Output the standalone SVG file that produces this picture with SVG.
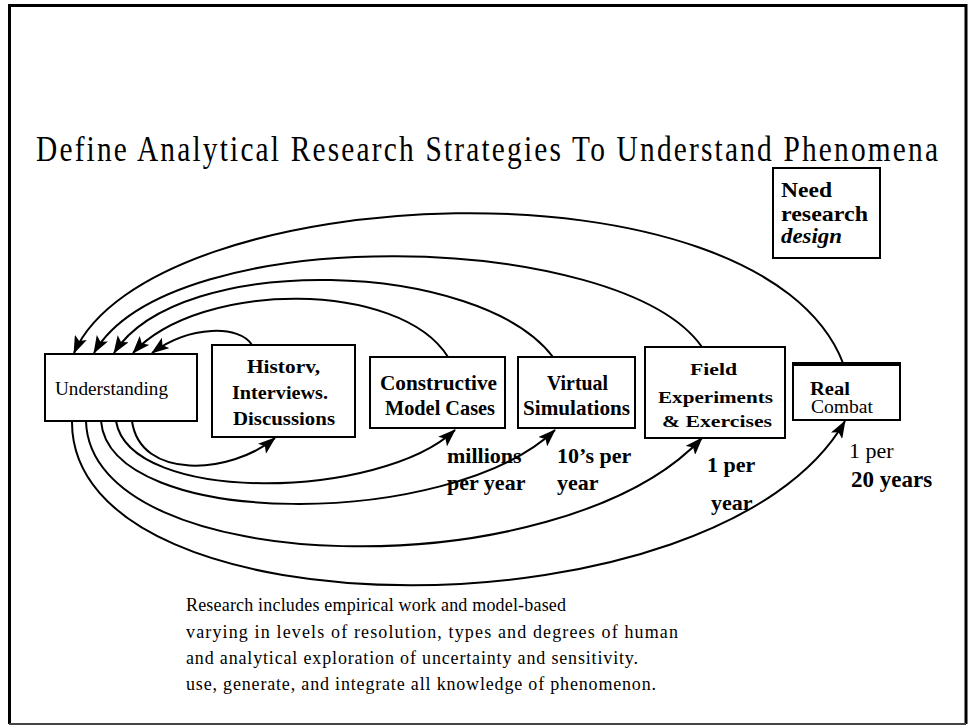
<svg xmlns="http://www.w3.org/2000/svg" width="970" height="727" viewBox="0 0 970 727">
<defs>
<marker id="ah" viewBox="0 0 18 13" markerUnits="userSpaceOnUse" markerWidth="18" markerHeight="13" refX="17" refY="6.5" orient="auto">
<path d="M0,0 L18,6.5 L0,13 L4,6.5 z" fill="#000"/>
</marker>
<style>
.box{fill:#fff;stroke:#000;stroke-width:2}
.arc{fill:none;stroke:#000;stroke-width:2;marker-end:url(#ah)}
.bt{font-weight:bold;fill:#000}
.rt{fill:#000}
.lb{font-weight:bold;font-size:22px;fill:#000}
.nt{font-size:18px;fill:#000}
</style>
</defs>
<rect x="0" y="0" width="970" height="727" fill="#fff"/>
<g id="frame">
<path d="M9.5,724 L9.5,5.5 L966,5.5 L966,724" fill="none" stroke="#000" stroke-width="3"/>
<line x1="9" y1="724" x2="966" y2="724" stroke="#444" stroke-width="2"/>
</g>
<g id="title" transform="scale(0.84,1)">
<text x="42.86" y="161" font-family="Liberation Serif, serif" font-size="35" textLength="1073.8" lengthAdjust="spacing">Define Analytical Research Strategies To Understand Phenomena</text>
</g>

<g id="connectors">
<path class="arc" d="M252,345 C240,325 190,325 152,353"/>
<path class="arc" d="M448,357 C400,280 200,280 133,353"/>
<path class="arc" d="M553,357 C480,260 180,250 114,353"/>
<path class="arc" d="M702,347 C620,230 170,220 94,353"/>
<path class="arc" d="M843,363 C760,150 150,180 74,353"/>
<path class="arc" d="M132,421 C140,480 230,475 275,438"/>
<path class="arc" d="M116,421 C130,505 380,500 455,430"/>
<path class="arc" d="M101,421 C110,530 450,530 555,430"/>
<path class="arc" d="M86,421 C90,580 560,590 702,438"/>
<path class="arc" d="M72,421 C70,640 720,640 845,421"/>
</g>

<g id="need" font-family="Liberation Serif, serif">
<rect class="box" x="773" y="168" width="107" height="90"/>
<text class="bt" x="781" y="197" font-size="21" textLength="51" lengthAdjust="spacingAndGlyphs">Need</text>
<text class="bt" x="781" y="221" font-size="21" textLength="87" lengthAdjust="spacingAndGlyphs">research</text>
<text class="bt" x="781" y="243" font-size="21" font-style="italic" textLength="61" lengthAdjust="spacingAndGlyphs">design</text>
</g>

<g id="understanding" font-family="Liberation Serif, serif">
<rect class="box" x="45" y="354" width="152" height="67"/>
<text class="rt" x="55" y="395" font-size="18" textLength="113" lengthAdjust="spacingAndGlyphs">Understanding</text>
</g>

<g id="history" font-family="Liberation Serif, serif">
<rect class="box" x="212" y="345" width="143" height="92"/>
<text class="bt" x="247" y="373" font-size="18" textLength="73" lengthAdjust="spacingAndGlyphs">Historv,</text>
<text class="bt" x="232" y="399" font-size="18" textLength="96" lengthAdjust="spacingAndGlyphs">Interviews.</text>
<text class="bt" x="233" y="425" font-size="18" textLength="102" lengthAdjust="spacingAndGlyphs">Discussions</text>
</g>

<g id="constructive" font-family="Liberation Serif, serif">
<rect class="box" x="370" y="357" width="135" height="71"/>
<text class="bt" x="380" y="390" font-size="21" textLength="117" lengthAdjust="spacingAndGlyphs">Constructive</text>
<text class="bt" x="385" y="415" font-size="21" textLength="110" lengthAdjust="spacingAndGlyphs">Model Cases</text>
</g>

<g id="virtual" font-family="Liberation Serif, serif">
<rect class="box" x="518" y="357" width="117" height="71"/>
<text class="bt" x="547" y="390" font-size="21" textLength="61" lengthAdjust="spacingAndGlyphs">Virtual</text>
<text class="bt" x="523" y="415" font-size="21" textLength="107" lengthAdjust="spacingAndGlyphs">Simulations</text>
</g>

<g id="field" font-family="Liberation Serif, serif">
<rect class="box" x="645" y="347" width="140" height="91"/>
<text class="bt" x="690" y="375" font-size="17" textLength="47" lengthAdjust="spacingAndGlyphs">Field</text>
<text class="bt" x="658" y="403" font-size="17" textLength="115" lengthAdjust="spacingAndGlyphs">Experiments</text>
<text class="bt" x="662" y="427" font-size="17" textLength="110" lengthAdjust="spacingAndGlyphs">&amp; Exercises</text>
</g>

<g id="real" font-family="Liberation Serif, serif">
<rect class="box" x="793" y="364" width="107" height="56"/>
<line x1="792" y1="364" x2="901" y2="364" stroke="#000" stroke-width="4"/>
<text class="bt" x="810" y="395" font-size="18" textLength="40" lengthAdjust="spacingAndGlyphs">Real</text>
<text class="rt" x="811" y="413" font-size="18" textLength="62" lengthAdjust="spacingAndGlyphs">Combat</text>
</g>

<g id="labels" font-family="Liberation Serif, serif">
<text class="lb" x="447" y="463">millions</text>
<text class="lb" x="447" y="490">per year</text>
<text class="lb" x="557" y="463">10’s per</text>
<text class="lb" x="557" y="490">year</text>
<text class="lb" x="707" y="472">1 per</text>
<text class="lb" x="711" y="510">year</text>
<text x="849" y="458" font-size="22">1 per</text>
<text class="lb" x="851" y="487" style="font-size:23px">20 years</text>
</g>

<g id="note" font-family="Liberation Serif, serif">
<text class="nt" x="186" y="611" textLength="380" lengthAdjust="spacing">Research includes empirical work and model-based</text>
<text class="nt" x="186" y="638" textLength="492" lengthAdjust="spacing">varying in levels of resolution, types and degrees of human</text>
<text class="nt" x="186" y="664" textLength="452" lengthAdjust="spacing">and analytical exploration of uncertainty and sensitivity.</text>
<text class="nt" x="186" y="690" textLength="470" lengthAdjust="spacing">use, generate, and integrate all knowledge of phenomenon.</text>
</g>
</svg>
